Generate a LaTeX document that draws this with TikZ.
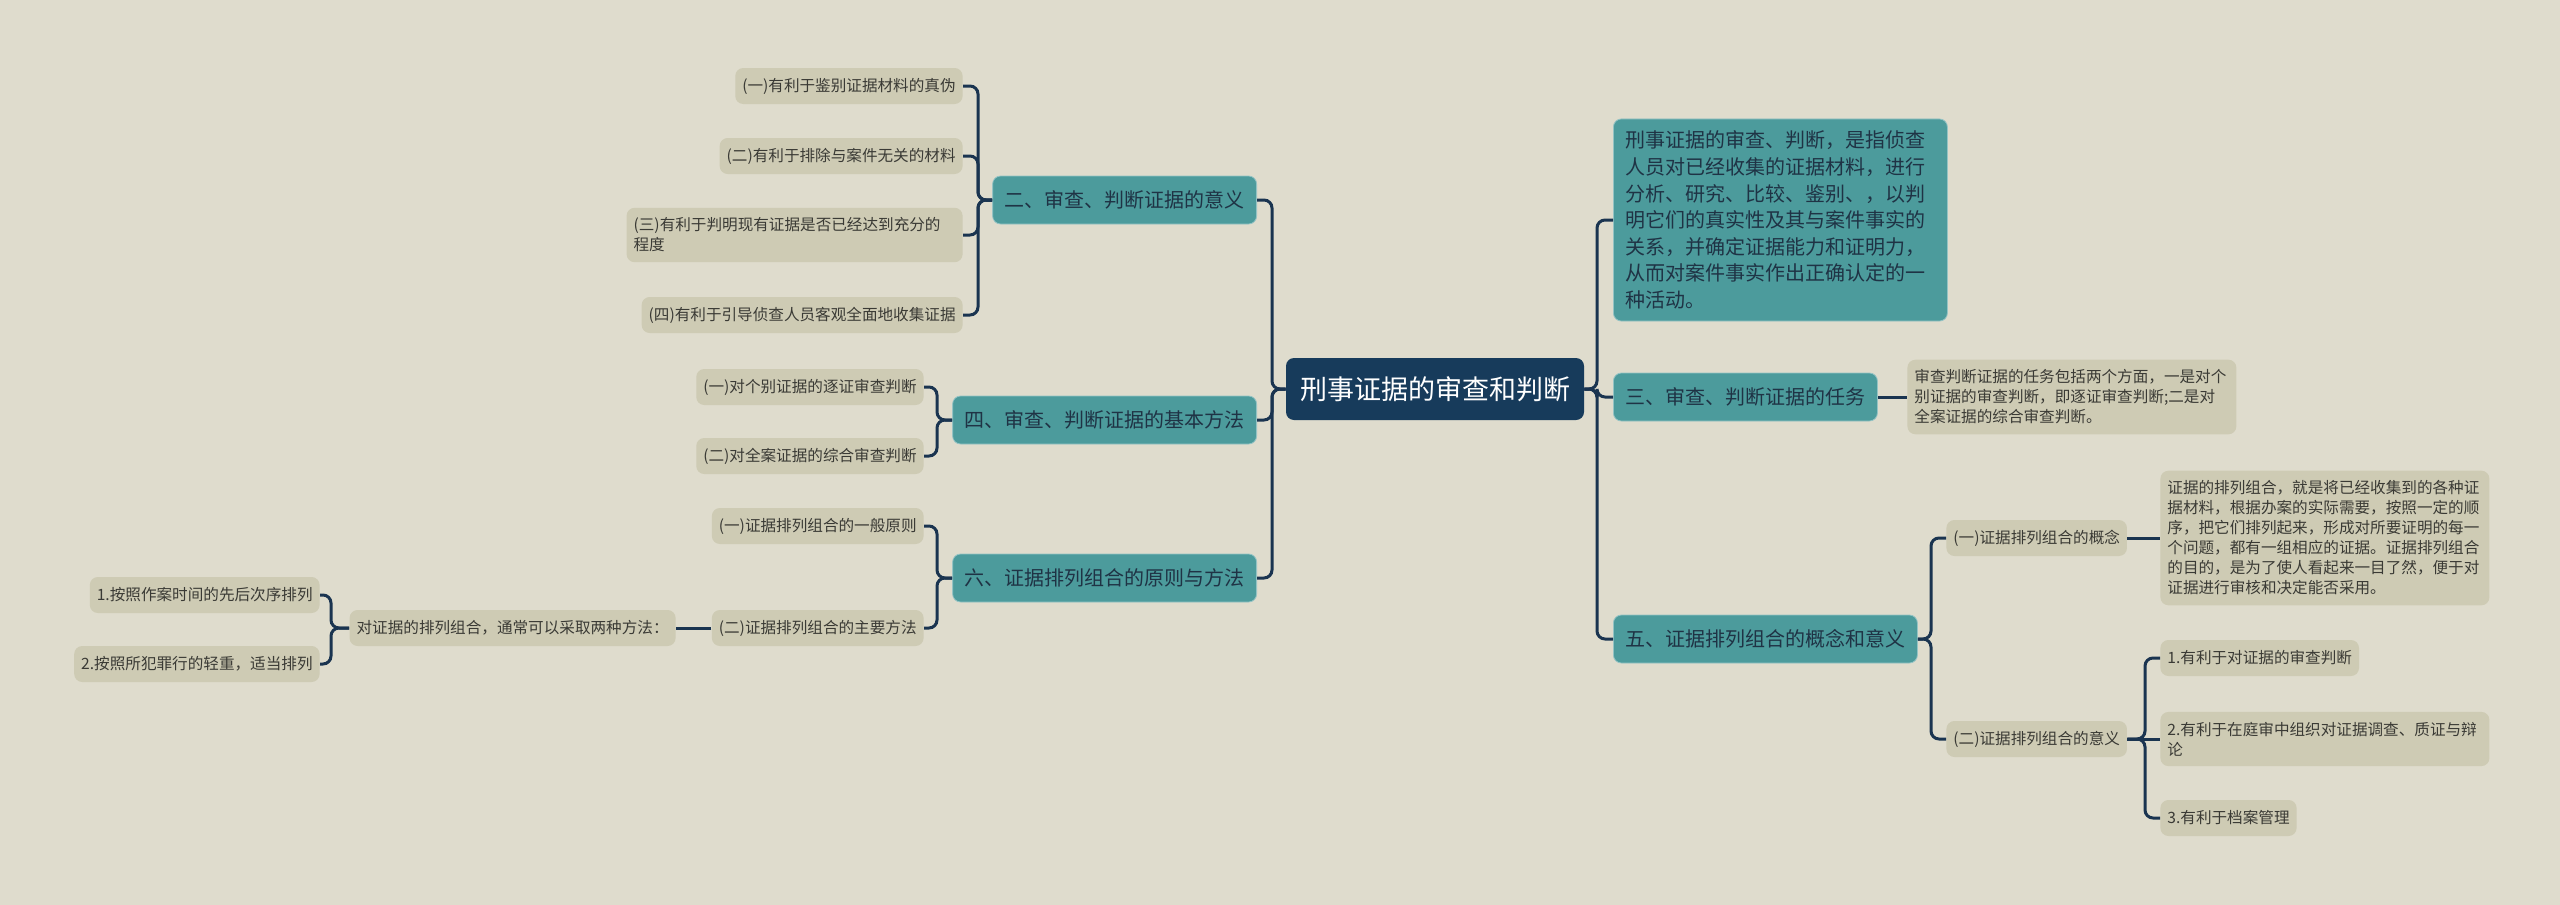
\documentclass[tikz,border=0pt]{standalone}
\usepackage{fontspec}
\setmainfont{Noto Sans CJK SC}
\definecolor{bg}{HTML}{DFDCCD}
\definecolor{navy}{HTML}{173B5B}
\definecolor{tealb}{HTML}{4C9B9C}
\definecolor{grayb}{HTML}{CECBB4}
\definecolor{linec}{HTML}{1A3450}
\definecolor{txtg}{HTML}{3A3A35}
\definecolor{txtt}{HTML}{1F3345}
\begin{document}
\begin{tikzpicture}[x=0.5pt,y=-0.5pt,
  base/.style={rounded corners=4pt, inner ysep=0pt},
  rootbox/.style={base, fill=navy, text=white, font=\fontsize{13.5pt}{16pt}\selectfont, minimum height=31pt, inner xsep=7pt},
  lvtwo/.style={base, fill=tealb, draw=tealb!60!white, line width=0.4pt, text=txtt, font=\fontsize{10pt}{13.3pt}\selectfont, minimum height=24pt, inner xsep=6pt},
  lvthree/.style={base, fill=grayb, text=txtg, font=\fontsize{7.8pt}{10pt}\selectfont, minimum height=18pt, inner xsep=3.5pt},
  multi/.style={align=left, inner ysep=5pt},
  conn/.style={draw=linec, line width=1.5pt, rounded corners=4pt}
]
\fill[bg] (0,0) rectangle (2560,905);
\useasboundingbox (0,0) rectangle (2560,905);

% root
\node[rootbox] (root) at (1435,389) {刑事证据的审查和判断};

% right side
\coordinate (rj) at (1597,389);
\node[lvtwo, multi, inner ysep=6pt, text width=155pt, anchor=west] (def) at (1613,220) {刑事证据的审查、判断，是指侦查\\人员对已经收集的证据材料，进行\\分析、研究、比较、鉴别、，以判\\明它们的真实性及其与案件事实的\\关系，并确定证据能力和证明力，\\从而对案件事实作出正确认定的一\\种活动。};
\node[lvtwo, anchor=west] (san) at (1613,397) {三、审查、判断证据的任务};
\node[lvthree, multi, text width=157.5pt, anchor=west] (sand) at (1907,397) {审查判断证据的任务包括两个方面，一是对个\\别证据的审查判断，即逐证审查判断;二是对\\全案证据的综合审查判断。};
\node[lvtwo, anchor=west] (wu) at (1613,639) {五、证据排列组合的概念和意义};
\coordinate (wuj) at (1931,639);
\node[lvthree, anchor=west] (wua) at (1946,538) {(一)证据排列组合的概念};
\node[lvthree, multi, text width=157.5pt, anchor=west] (wuad) at (2160,538) {证据的排列组合，就是将已经收集到的各种证\\据材料，根据办案的实际需要，按照一定的顺\\序，把它们排列起来，形成对所要证明的每一\\个问题，都有一组相应的证据。证据排列组合\\的目的，是为了使人看起来一目了然，便于对\\证据进行审核和决定能否采用。};
\node[lvthree, anchor=west] (wub) at (1946,739) {(二)证据排列组合的意义};
\coordinate (wubj) at (2145,739);
\node[lvthree, anchor=west] (wub1) at (2160,658) {1.有利于对证据的审查判断};
\node[lvthree, multi, text width=157.5pt, anchor=west] (wub2) at (2160,739) {2.有利于在庭审中组织对证据调查、质证与辩\\论};
\node[lvthree, anchor=west] (wub3) at (2160,818) {3.有利于档案管理};

\draw[conn] (root.east) -- (rj) |- (def.west);
\draw[conn] (root.east) -- (rj) |- (san.west);
\draw[conn] (root.east) -- (rj) |- (wu.west);
\draw[conn] (san.east) -- (sand.west);
\draw[conn] (wu.east) -- (wuj) |- (wua.west);
\draw[conn] (wu.east) -- (wuj) |- (wub.west);
\draw[conn] (wua.east) -- (wuad.west);
\draw[conn] (wub.east) -- (wubj) |- (wub1.west);
\draw[conn] (wub.east) -- (wub2.west);
\draw[conn] (wub.east) -- (wubj) |- (wub3.west);

% left side
\coordinate (lj) at (1272,389);
\node[lvtwo, anchor=east] (er) at (1257,200) {二、审查、判断证据的意义};
\coordinate (erj) at (978,200);
\node[lvthree, anchor=east] (era) at (963,86) {(一)有利于鉴别证据材料的真伪};
\node[lvthree, anchor=east] (erb) at (963,156) {(二)有利于排除与案件无关的材料};
\node[lvthree, multi, text width=161pt, anchor=east] (erc) at (963,235) {(三)有利于判明现有证据是否已经达到充分的\\程度};
\node[lvthree, anchor=east] (erd) at (963,315) {(四)有利于引导侦查人员客观全面地收集证据};

\node[lvtwo, anchor=east] (si) at (1257,420) {四、审查、判断证据的基本方法};
\coordinate (sij) at (937,420);
\node[lvthree, anchor=east] (sia) at (924,387) {(一)对个别证据的逐证审查判断};
\node[lvthree, anchor=east] (sib) at (924,456) {(二)对全案证据的综合审查判断};

\node[lvtwo, anchor=east] (liu) at (1257,578) {六、证据排列组合的原则与方法};
\coordinate (liuj) at (937,578);
\node[lvthree, anchor=east] (liua) at (924,526) {(一)证据排列组合的一般原则};
\node[lvthree, anchor=east] (liub) at (924,628) {(二)证据排列组合的主要方法};
\node[lvthree, anchor=east] (fa) at (676,628) {对证据的排列组合，通常可以采取两种方法：};
\coordinate (faj) at (331,628);
\node[lvthree, anchor=east] (faa) at (320,595) {1.按照作案时间的先后次序排列};
\node[lvthree, anchor=east] (fab) at (320,664) {2.按照所犯罪行的轻重，适当排列};

\draw[conn] (root.west) -- (lj) |- (er.east);
\draw[conn] (root.west) -- (lj) |- (si.east);
\draw[conn] (root.west) -- (lj) |- (liu.east);
\draw[conn] (er.west) -- (erj) |- (era.east);
\draw[conn] (er.west) -- (erj) |- (erb.east);
\draw[conn] (er.west) -- (erj) |- (erc.east);
\draw[conn] (er.west) -- (erj) |- (erd.east);
\draw[conn] (si.west) -- (sij) |- (sia.east);
\draw[conn] (si.west) -- (sij) |- (sib.east);
\draw[conn] (liu.west) -- (liuj) |- (liua.east);
\draw[conn] (liu.west) -- (liuj) |- (liub.east);
\draw[conn] (liub.west) -- (fa.east);
\draw[conn] (fa.west) -- (faj) |- (faa.east);
\draw[conn] (fa.west) -- (faj) |- (fab.east);
\end{tikzpicture}
\end{document}
